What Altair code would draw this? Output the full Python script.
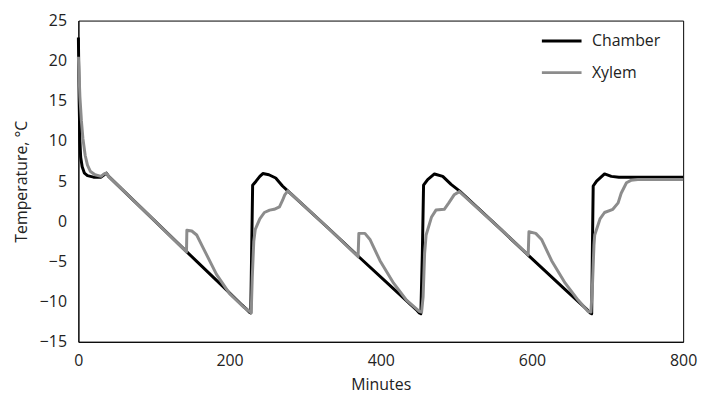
import altair as alt
import pandas as pd

# Chamber temperature (minutes, °C)
chamber_min = [0, 1, 2, 3, 5, 8, 12, 20, 30, 34, 37, 40,
               100, 139, 160, 190, 215, 222, 226, 228, 229, 230.5, 235, 240, 244, 252, 261, 270, 277,
               330, 372, 417, 440, 448, 451, 453, 455, 456.6, 462, 471, 482, 493, 504,
               560, 596, 644, 665, 673, 677, 679, 680, 681, 685.5, 696, 705, 715, 727, 760, 800]
chamber_temp = [22.9, 15.0, 10.0, 8.0, 6.8, 6.0, 5.7, 5.5, 5.5, 5.8, 6.0, 5.6,
                0.15, -3.4, -5.3, -8.0, -10.3, -10.9, -11.3, -11.4, -5.0, 4.5, 5.0, 5.6, 5.95, 5.8, 5.4, 4.4, 3.8,
                -0.8, -4.5, -8.4, -10.4, -11.1, -11.4, -11.5, -4.0, 4.5, 5.2, 5.9, 5.6, 4.6, 3.8,
                -1.1, -4.3, -8.5, -10.3, -11.0, -11.4, -11.5, -3.0, 4.4, 5.0, 5.9, 5.6, 5.5, 5.5, 5.5, 5.5]

# Xylem temperature (minutes, °C)
xylem_min = [0, 1, 2, 4, 6, 9, 12, 16, 22, 30, 34, 37, 40,
             100, 143, 143.5, 150, 156.5, 165, 182.7, 200, 217.7, 226, 228.6, 230, 232, 234, 240, 246, 253, 259, 266, 270, 273, 277,
             330, 370, 371, 379, 386, 399, 417, 434, 451, 454, 456, 458, 460, 467, 473, 484, 490, 497, 504,
             560, 595, 596, 605, 613, 626, 644, 661, 674, 678, 680, 682, 683, 690, 696, 707, 714, 718, 725, 731, 740, 800]
xylem_temp = [20.5, 18.0, 15.5, 12.5, 10.3, 8.2, 7.0, 6.2, 5.8, 5.6, 5.9, 6.0, 5.6,
              0.15, -3.8, -1.1, -1.2, -1.7, -3.3, -6.6, -9.0, -10.6, -11.2, -11.4, -7.0, -2.5, -1.0, 0.3, 1.1, 1.4, 1.5, 1.8, 2.6, 3.3, 3.8,
              -0.8, -4.4, -1.5, -1.5, -2.3, -4.9, -7.7, -9.8, -11.2, -11.3, -9.4, -4.0, -1.7, 0.5, 1.4, 1.5, 2.3, 3.3, 3.7,
              -1.1, -4.2, -1.3, -1.5, -2.3, -4.9, -7.7, -9.8, -11.2, -11.3, -8.0, -3.0, -1.7, 0.3, 1.1, 1.5, 2.3, 3.5, 4.8, 5.1, 5.2, 5.2]

series_names = ["Chamber", "Xylem"]
series_colors = ["#000000", "#8c8c8c"]

df = pd.concat([
    pd.DataFrame({"Minutes": chamber_min, "Temp": chamber_temp, "Series": "Chamber", "order": range(len(chamber_min))}),
    pd.DataFrame({"Minutes": xylem_min, "Temp": xylem_temp, "Series": "Xylem", "order": range(len(xylem_min))}),
])

FONT = "Open Sans"

chart = alt.Chart(df).mark_line(strokeWidth=3, interpolate="linear", strokeJoin="round").encode(
    x=alt.X("Minutes:Q", scale=alt.Scale(domain=[0, 800], nice=False),
            axis=alt.Axis(values=[0, 200, 400, 600, 800], title="Minutes", grid=False, ticks=False,
                          domainColor="black", labelPadding=11, titlePadding=8, labelFlush=False)),
    y=alt.Y("Temp:Q", scale=alt.Scale(domain=[-15, 25], nice=False),
            axis=alt.Axis(values=list(range(-15, 30, 5)), title="Temperature, °C", grid=False, ticks=False,
                          domainColor="black", labelPadding=12, titlePadding=10, labelFlush=False)),
    color=alt.Color("Series:N", scale=alt.Scale(domain=series_names, range=series_colors),
                    legend=alt.Legend(title=None, orient="none", legendX=476, legendY=9,
                                      symbolType="M-2,0H2", symbolSize=400, symbolStrokeWidth=3,
                                      labelOffset=19, labelFontSize=16, labelFont=FONT,
                                      labelColor="#222222", rowPadding=12)),
    order="order:Q",
).properties(
    width=610, height=324,
    autosize=alt.AutoSizeParams(type="none"),
    padding={"left": 71, "top": 11, "right": 18, "bottom": 55},
).configure_view(
    stroke="black", strokeWidth=1
).configure_axis(
    labelFont=FONT, titleFont=FONT, labelFontSize=16, titleFontSize=16,
    labelColor="#222222", titleColor="#222222", titleFontWeight="normal"
)

chart.save("out.html", embed_options={"renderer": "svg", "actions": False})
